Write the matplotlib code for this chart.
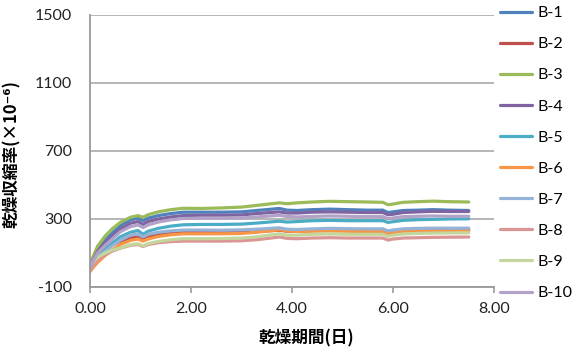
import numpy as np
import matplotlib.pyplot as plt

# drying time (days)
days = [0, 0.05, 0.15, 0.3, 0.45, 0.6, 0.8, 0.95, 1.05, 1.15, 1.35, 1.6, 1.85, 2.2, 2.6, 3.0,
        3.3, 3.75, 3.9, 4.1, 4.4, 4.75, 5.1, 5.5, 5.8, 5.9, 6.0, 6.2, 6.5, 6.8, 7.1, 7.5]

b1 = [10, 55, 120, 175, 220, 260, 295, 305, 290, 305, 320, 332, 340, 340, 340, 342,
      350, 362, 352, 350, 355, 358, 355, 352, 352, 338, 342, 350, 352, 355, 352, 350]
b2 = [5, 40, 85, 120, 150, 168, 188, 195, 182, 195, 207, 215, 222, 220, 220, 222,
      226, 234, 228, 228, 232, 235, 232, 230, 230, 218, 224, 232, 234, 236, 237, 237]
b3 = [15, 70, 140, 200, 245, 280, 310, 320, 310, 325, 342, 355, 363, 362, 365, 370,
      380, 395, 390, 395, 400, 404, 402, 400, 398, 384, 388, 398, 402, 405, 402, 400]
b4 = [10, 50, 110, 160, 200, 240, 275, 285, 268, 285, 300, 312, 320, 322, 322, 324,
      332, 342, 335, 335, 340, 342, 340, 338, 338, 325, 328, 338, 342, 345, 344, 344]
b5 = [0, 40, 85, 125, 160, 195, 222, 232, 210, 228, 245, 258, 266, 268, 268, 270,
      276, 287, 282, 285, 290, 292, 290, 290, 290, 280, 284, 292, 296, 298, 300, 301]
b6 = [-10, 10, 45, 85, 120, 150, 174, 182, 170, 182, 197, 207, 213, 213, 213, 215,
      222, 237, 230, 226, 228, 230, 228, 226, 226, 215, 220, 228, 230, 230, 230, 230]
b7 = [0, 35, 75, 110, 145, 175, 205, 212, 195, 210, 222, 230, 235, 235, 234, 236,
      240, 248, 240, 238, 242, 245, 243, 242, 242, 230, 235, 242, 245, 246, 246, 246]
b8 = [0, 25, 60, 90, 112, 128, 145, 150, 138, 150, 160, 167, 170, 170, 170, 172,
      178, 194, 186, 184, 188, 190, 188, 188, 188, 176, 182, 188, 190, 192, 193, 194]
b9 = [20, 45, 75, 100, 118, 130, 149, 155, 142, 155, 168, 178, 184, 184, 185, 188,
      195, 213, 205, 205, 210, 212, 210, 210, 210, 198, 205, 212, 215, 217, 218, 219]
b10 = [5, 45, 100, 145, 185, 225, 255, 265, 250, 265, 282, 295, 303, 305, 305, 306,
       312, 322, 315, 312, 315, 318, 316, 314, 314, 302, 306, 314, 316, 318, 316, 316]

labels = ['B-1', 'B-2', 'B-3', 'B-4', 'B-5', 'B-6', 'B-7', 'B-8', 'B-9', 'B-10']
series = [b1, b2, b3, b4, b5, b6, b7, b8, b9, b10]
colors = ['#4F81BD', '#C0504D', '#9BBB59', '#8064A2', '#4BACC6',
          '#F79646', '#95B3D7', '#D99694', '#C3D69B', '#B3A2C7']

plt.rcParams['font.family'] = ['Lato', 'Noto Sans CJK JP', 'DejaVu Sans']
plt.rcParams['axes.unicode_minus'] = False

fig = plt.figure(figsize=(5.79, 3.51), dpi=100)
ax = fig.add_axes([90 / 579, 1 - 287 / 351, 404 / 579, 272 / 351])

for vals, lab, col in zip(series, labels, colors):
    ax.plot(days, vals, color=col, lw=2.3, label=lab, solid_capstyle='round')

ax.set_xlim(0, 8)
ax.set_ylim(-100, 1500)
ax.set_xticks(np.arange(0, 8.01, 2))
ax.set_xticklabels([f'{v:.2f}' for v in np.arange(0, 8.01, 2)])
ax.set_yticks([-100, 300, 700, 1100, 1500])

ax.grid(axis='y', color='#B0B0B0', lw=1.3)
ax.set_axisbelow(True)
for s in ['top', 'right']:
    ax.spines[s].set_visible(False)
for s in ['left', 'bottom']:
    ax.spines[s].set_color('#999999')
    ax.spines[s].set_linewidth(1.3)

ax.tick_params(axis='x', length=4, width=1.2, color='#999999', pad=7,
               labelsize=11.5, labelcolor='#222222')
ax.tick_params(axis='y', length=0, pad=13, labelsize=11.5, labelcolor='#222222')

ax.set_xlabel('乾燥期間(日)', family=['Noto Sans CJK JP'], fontsize=12,
              fontweight='bold')
ax.xaxis.set_label_coords(0.535, -0.155)
ax.set_ylabel('乾燥収縮率(×10⁻⁶)', family=['Noto Sans CJK JP', 'DejaVu Sans'],
              fontsize=12, fontweight='bold')
ax.yaxis.set_label_coords(-0.172, 0.49)

fig.legend(loc='upper left', bbox_to_anchor=(500 / 579, 1 - 6 / 351), frameon=False,
           fontsize=11.5, handlelength=2.0, handletextpad=0.35, labelspacing=1.06,
           borderaxespad=0, borderpad=0)

fig.savefig('out.png', dpi=100)
